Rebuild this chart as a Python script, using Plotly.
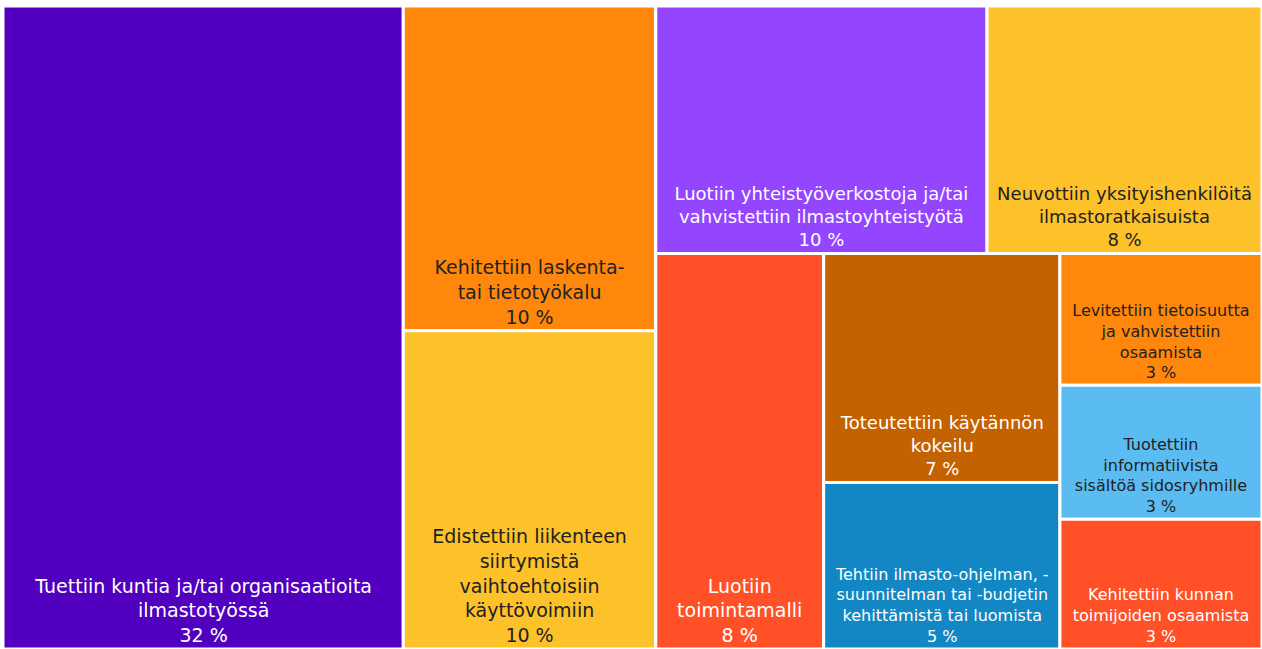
import plotly.graph_objects as go

labels = [
    "Tuettiin kuntia ja/tai organisaatioita<br>ilmastotyössä",
    "Kehitettiin laskenta-<br>tai tietotyökalu",
    "Edistettiin liikenteen<br>siirtymistä<br>vaihtoehtoisiin<br>käyttövoimiin",
    "Luotiin yhteistyöverkostoja ja/tai<br>vahvistettiin ilmastoyhteistyötä",
    "Neuvottiin yksityishenkilöitä<br>ilmastoratkaisuista",
    "Luotiin<br>toimintamalli",
    "Toteutettiin käytännön<br>kokeilu",
    "Tehtiin ilmasto-ohjelman, -<br>suunnitelman tai -budjetin<br>kehittämistä tai luomista",
    "Levitettiin tietoisuutta<br>ja vahvistettiin<br>osaamista",
    "Tuotettiin<br>informatiivista<br>sisältöä sidosryhmille",
    "Kehitettiin kunnan<br>toimijoiden osaamista",
]
# area shares (percent)
shares = [31.4, 10.0, 9.8, 10.0, 8.3, 8.1, 6.6, 4.8, 3.25, 3.3, 3.2]
# percentages shown on the tiles
percents = [32, 10, 10, 10, 8, 8, 7, 5, 3, 3, 3]
colors = ["#5000BE", "#FF870B", "#FDC12A", "#9446FF", "#FDC12A", "#FF5028",
          "#C46200", "#1287C3", "#FF870B", "#5ABCF1", "#FF5028"]
text_colors = ["#FFFFFF", "#222222", "#222222", "#FFFFFF", "#222222", "#FFFFFF",
               "#FFFFFF", "#FFFFFF", "#222222", "#222222", "#FFFFFF"]
font_sizes = [19, 19, 19, 18, 18, 19, 18, 16, 16, 16, 16]

# nesting of the tiles (item indexes), alternating columns / rows
tiling_tree = [0, [1, 2], [[3, 4], [5, [6, 7], [8, 9, 10]]]]

ids, node_labels, parents, values, texts = [], [], [], [], []
node_colors, node_tcolors, node_fsizes = [], [], []
counter = [0]


def total(node):
    if isinstance(node, int):
        return shares[node]
    return sum(total(c) for c in node)


def emit(node, parent):
    if isinstance(node, int):
        i = node
        ids.append(f"n{i}")
        node_labels.append(labels[i])
        parents.append(parent)
        values.append(shares[i])
        texts.append(f"{labels[i]}<br>{percents[i]} %")
        node_colors.append(colors[i])
        node_tcolors.append(text_colors[i])
        node_fsizes.append(font_sizes[i])
        return
    counter[0] += 1
    gid = f"g{counter[0]}"
    ids.append(gid)
    node_labels.append("")
    parents.append(parent)
    values.append(total(node))
    texts.append("")
    node_colors.append("white")
    node_tcolors.append("white")
    node_fsizes.append(1)
    for c in node:
        emit(c, gid)


emit(tiling_tree, "")

fig = go.Figure(go.Treemap(
    ids=ids,
    labels=node_labels,
    parents=parents,
    values=values,
    text=texts,
    branchvalues="total",
    texttemplate="%{text}",
    textposition="bottom center",
    textfont=dict(family="DejaVu Sans", size=node_fsizes, color=node_tcolors),
    marker=dict(colors=node_colors, line=dict(color="white", width=3),
                pad=dict(t=0, l=0, r=0, b=0)),
    tiling=dict(packing="slice-dice", pad=0),
    sort=False,
    pathbar=dict(visible=False),
    hoverinfo="text",
))
fig.update_layout(
    width=1262, height=649,
    margin=dict(l=3, r=0, t=6, b=0),
    paper_bgcolor="white",
    showlegend=False,
)
fig.write_html("out.html", config={"displayModeBar": False},
               post_script="document.body.style.margin='0';")
